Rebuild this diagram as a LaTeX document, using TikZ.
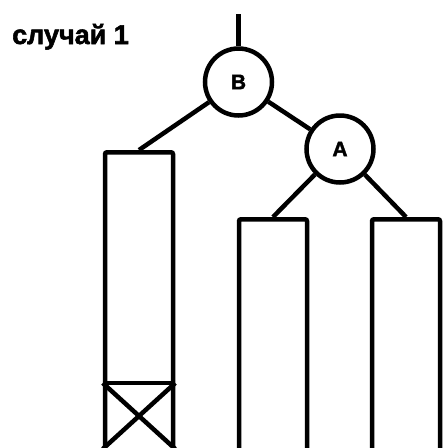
\documentclass[tikz,border=0pt]{standalone}
\usepackage{fontspec}
\setmainfont{Liberation Sans}[BoldFeatures={FakeBold=2}]
\usetikzlibrary{positioning, calc}
\tikzset{
  vertex/.style = {circle, draw, line width=4.5pt, minimum size=67pt, inner sep=0pt,
                   font=\fontsize{21}{21}\selectfont\bfseries},
  leaf/.style   = {rectangle, draw, line width=4.5pt, rounded corners=2pt, anchor=north,
                   minimum width=68pt, minimum height=320pt, inner sep=0pt},
  edge/.style   = {line width=4.5pt},
  label/.style  = {font=\fontsize{27}{27}\selectfont\bfseries, inner sep=0pt, anchor=base west},
}

\begin{document}
\begin{tikzpicture}[x=1pt, y=-1pt]
  \clip (0,0) rectangle (443,448);
  \node[label] (title) at (12,44) {случай 1};
  % tree
  \coordinate (root) at (238.5,14);
  \node[vertex] (B) at (238.5,82) {B};
  \node[vertex] (A) at (340,149) {A};
  % subtrees
  \node[leaf] (T1) at (139,150) {};
  \node[leaf] (T2) at (273,217) {};
  \node[leaf] (T3) at (406,217) {};
  % crossed-out cell at the bottom of the left subtree
  \coordinate (c1) at (T1.west |- 0,383);
  \coordinate (c2) at (T1.east |- 0,383);
  \coordinate (c3) at (T1.west |- 0,449);
  \coordinate (c4) at (T1.east |- 0,449);
  \draw[edge] (c1) -- (c2);
  \draw[edge] (c1) -- (c4);
  \draw[edge] (c2) -- (c3);
  % links
  \draw[edge] (root) -- (B);
  \draw[edge] (B) -- (T1.north);
  \draw[edge] (B) -- (A);
  \draw[edge] (A) -- (T2.north);
  \draw[edge] (A) -- (T3.north);
\end{tikzpicture}
\end{document}
